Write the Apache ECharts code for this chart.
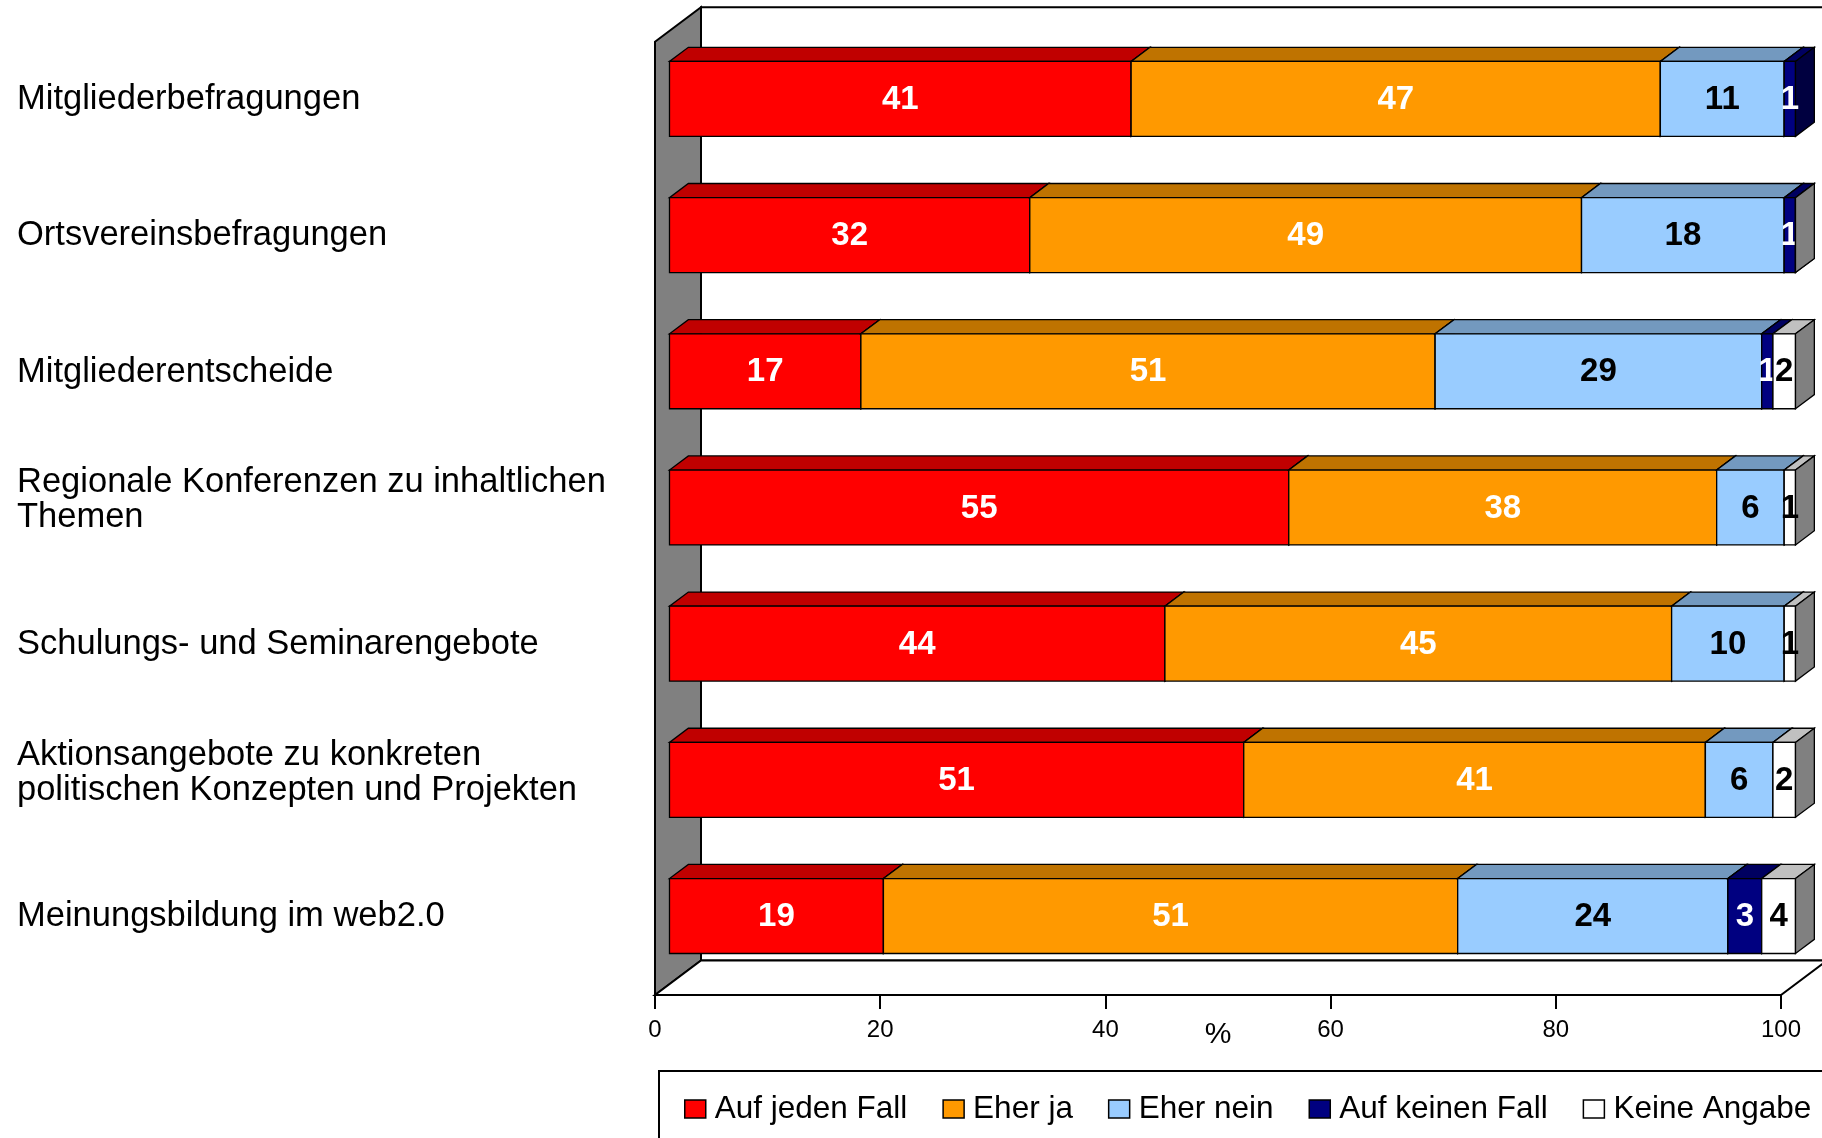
<!DOCTYPE html>
<html>
<head>
<meta charset="utf-8">
<script src="https://cdn.jsdelivr.net/npm/echarts@6/dist/echarts.min.js"></script>
<style>
html,body{margin:0;padding:0;background:#fff;}
#chart{width:1822px;height:1138px;}
</style>
</head>
<body>
<div id="chart"></div>
<script>
// ---- data ----
const categories = [
  'Mitgliederbefragungen',
  'Ortsvereinsbefragungen',
  'Mitgliederentscheide',
  'Regionale Konferenzen zu inhaltlichen\nThemen',
  'Schulungs- und Seminarengebote',
  'Aktionsangebote zu konkreten\npolitischen Konzepten und Projekten',
  'Meinungsbildung im web2.0'
];
const seriesNames = ['Auf jeden Fall', 'Eher ja', 'Eher nein', 'Auf keinen Fall', 'Keine Angabe'];
const aufJedenFall   = [41, 32, 17, 55, 44, 51, 19];
const eherJa         = [47, 49, 51, 38, 45, 41, 51];
const eherNein       = [11, 18, 29, 6, 10, 6, 24];
const aufKeinenFall  = [1, 1, 1, null, null, null, 3];
const keineAngabe    = [null, 0, 2, 1, 1, 2, 4];
const xTicks = [0, 20, 40, 60, 80, 100];

// ---- styles ----
const frontColors = ['#FF0000', '#FF9900', '#99CCFF', '#000080', '#FFFFFF'];
const topColors   = ['#C00000', '#BF7300', '#7399BF', '#000060', '#C0C0C0'];
const sideColors  = ['#800000', '#804C00', '#4D6680', '#000040', '#808080'];
const labelColors = ['#FFFFFF', '#FFFFFF', '#000000', '#FFFFFF', '#000000'];
const DEPTH = [46, -34.5];   // 3D depth vector of the plot box (px)
const FRONT = 0.315;         // bar front face position along depth
const BAR_D = 0.41;          // bar depth along depth
const FONT = '"Liberation Sans", Arial, sans-serif';
const X_MIN = xTicks[0], X_MAX = xTicks[xTicks.length - 1];

const allValues = [aufJedenFall, eherJa, eherNein, aufKeinenFall, keineAngabe];

// stacked segments: [start, end, categoryIndex, value]
const cum = categories.map(() => 0);
const seriesData = allValues.map(arr => {
  const out = [];
  arr.forEach((v, i) => {
    if (v == null) return;
    out.push([cum[i], cum[i] + v, i, v]);
    cum[i] += v;
  });
  return out;
});

function makeRender(k) {
  return function (params, api) {
    const s = Math.min(api.value(0), X_MAX), e = Math.min(api.value(1), X_MAX);
    const c = api.value(2), v = api.value(3);
    const a = api.coord([s, c]);
    const b = api.coord([e, c]);
    const band = api.size([0, 1])[1];
    const h = band * 0.55;
    const fx = DEPTH[0] * FRONT, fy = DEPTH[1] * FRONT;
    const bx = DEPTH[0] * BAR_D, by = DEPTH[1] * BAR_D;
    const x0 = a[0] + fx, x1 = b[0] + fx, yc = a[1] + fy;
    const t = yc - h / 2, bt = yc + h / 2;
    const line = { stroke: '#000', lineWidth: 1.3 };
    const children = [
      { type: 'polygon', shape: { points: [[x0, t], [x1, t], [x1 + bx, t + by], [x0 + bx, t + by]] },
        style: Object.assign({ fill: topColors[k] }, line) },
      { type: 'rect', shape: { x: x0, y: t, width: x1 - x0, height: h },
        style: Object.assign({ fill: frontColors[k] }, line) },
      { type: 'polygon', shape: { points: [[x1, t], [x1 + bx, t + by], [x1 + bx, bt + by], [x1, bt]] },
        style: Object.assign({ fill: sideColors[k] }, line) }
    ];
    if (v > 0) {
      children.push({
        type: 'text', x: (x0 + x1) / 2, y: yc + 1,
        style: { text: String(v), fill: labelColors[k], font: 'bold 33px ' + FONT, align: 'center', verticalAlign: 'middle' }
      });
    }
    return { type: 'group', children: children };
  };
}

function renderWalls(params, api) {
  const cs = params.coordSys;
  const L = cs.x, T = cs.y, R = cs.x + cs.width, B = cs.y + cs.height;
  const dx = DEPTH[0], dy = DEPTH[1];
  const line = { stroke: '#000', lineWidth: 2 };
  return {
    type: 'group',
    children: [
      { type: 'polygon', shape: { points: [[L + dx, T + dy], [R + dx, T + dy], [R + dx, B + dy], [L + dx, B + dy]] },
        style: Object.assign({ fill: '#FFFFFF' }, line) },
      { type: 'polygon', shape: { points: [[L, T], [L + dx, T + dy], [L + dx, B + dy], [L, B]] },
        style: Object.assign({ fill: '#808080' }, line) },
      { type: 'polygon', shape: { points: [[L, B], [R, B], [R + dx, B + dy], [L + dx, B + dy]] },
        style: Object.assign({ fill: '#FFFFFF' }, line) }
    ]
  };
}

const series = [{
  type: 'custom', name: 'walls', coordinateSystem: 'cartesian2d', z: 1, silent: true,
  renderItem: renderWalls, data: [[0, 0]], encode: { x: 0, y: 1 }
}];
seriesNames.forEach((name, k) => {
  series.push({
    type: 'custom', name: name, coordinateSystem: 'cartesian2d', z: 2,
    color: frontColors[k], itemStyle: { color: frontColors[k] },
    renderItem: makeRender(k),
    encode: { x: [0, 1], y: 2 },
    data: seriesData[k]
  });
});

const chart = echarts.init(document.getElementById('chart'), null, { renderer: 'canvas' });
chart.setOption({
  animation: false,
  backgroundColor: '#fff',
  grid: { left: 655, right: 41, top: 41.7, bottom: 143, containLabel: false },
  xAxis: {
    type: 'value', min: X_MIN, max: X_MAX, interval: 20,
    axisLine: { show: true, lineStyle: { color: '#000', width: 2 } },
    axisTick: { show: true, length: 14, lineStyle: { color: '#000', width: 2 } },
    axisLabel: { fontSize: 24, color: '#000', margin: 23, fontFamily: FONT },
    splitLine: { show: false },
    name: '%', nameLocation: 'middle', nameGap: 25, nameMoveOverlap: false,
    nameTextStyle: { fontSize: 30, color: '#000', fontFamily: FONT }
  },
  yAxis: {
    type: 'category', data: categories, inverse: true,
    axisLine: { show: false }, axisTick: { show: false }, splitLine: { show: false },
    axisLabel: {
      interval: 0, align: 'left', margin: 638, fontSize: 34.5, lineHeight: 35,
      color: '#000', fontFamily: FONT,
      formatter: function (val) {
        return val + (val.indexOf('\n') >= 0 ? '\n{b| }' : '\n{a| }');
      },
      rich: {
        a: { lineHeight: 20, fontSize: 2 },
        b: { lineHeight: 36, fontSize: 2 }
      }
    }
  },
  legend: {
    data: seriesNames, left: 659, top: 1071, width: 1300, orient: 'horizontal',
    padding: [22, 60, 30, 25], itemGap: 35, itemWidth: 21, itemHeight: 18,
    icon: 'rect', selectedMode: false,
    backgroundColor: '#fff', borderColor: '#000', borderWidth: 2,
    itemStyle: { borderColor: '#000', borderWidth: 1.5 },
    textStyle: { fontSize: 31.5, color: '#000', fontFamily: FONT, padding: [0, 0, 0, 4] }
  },
  series: series
});
</script>
</body>
</html>
